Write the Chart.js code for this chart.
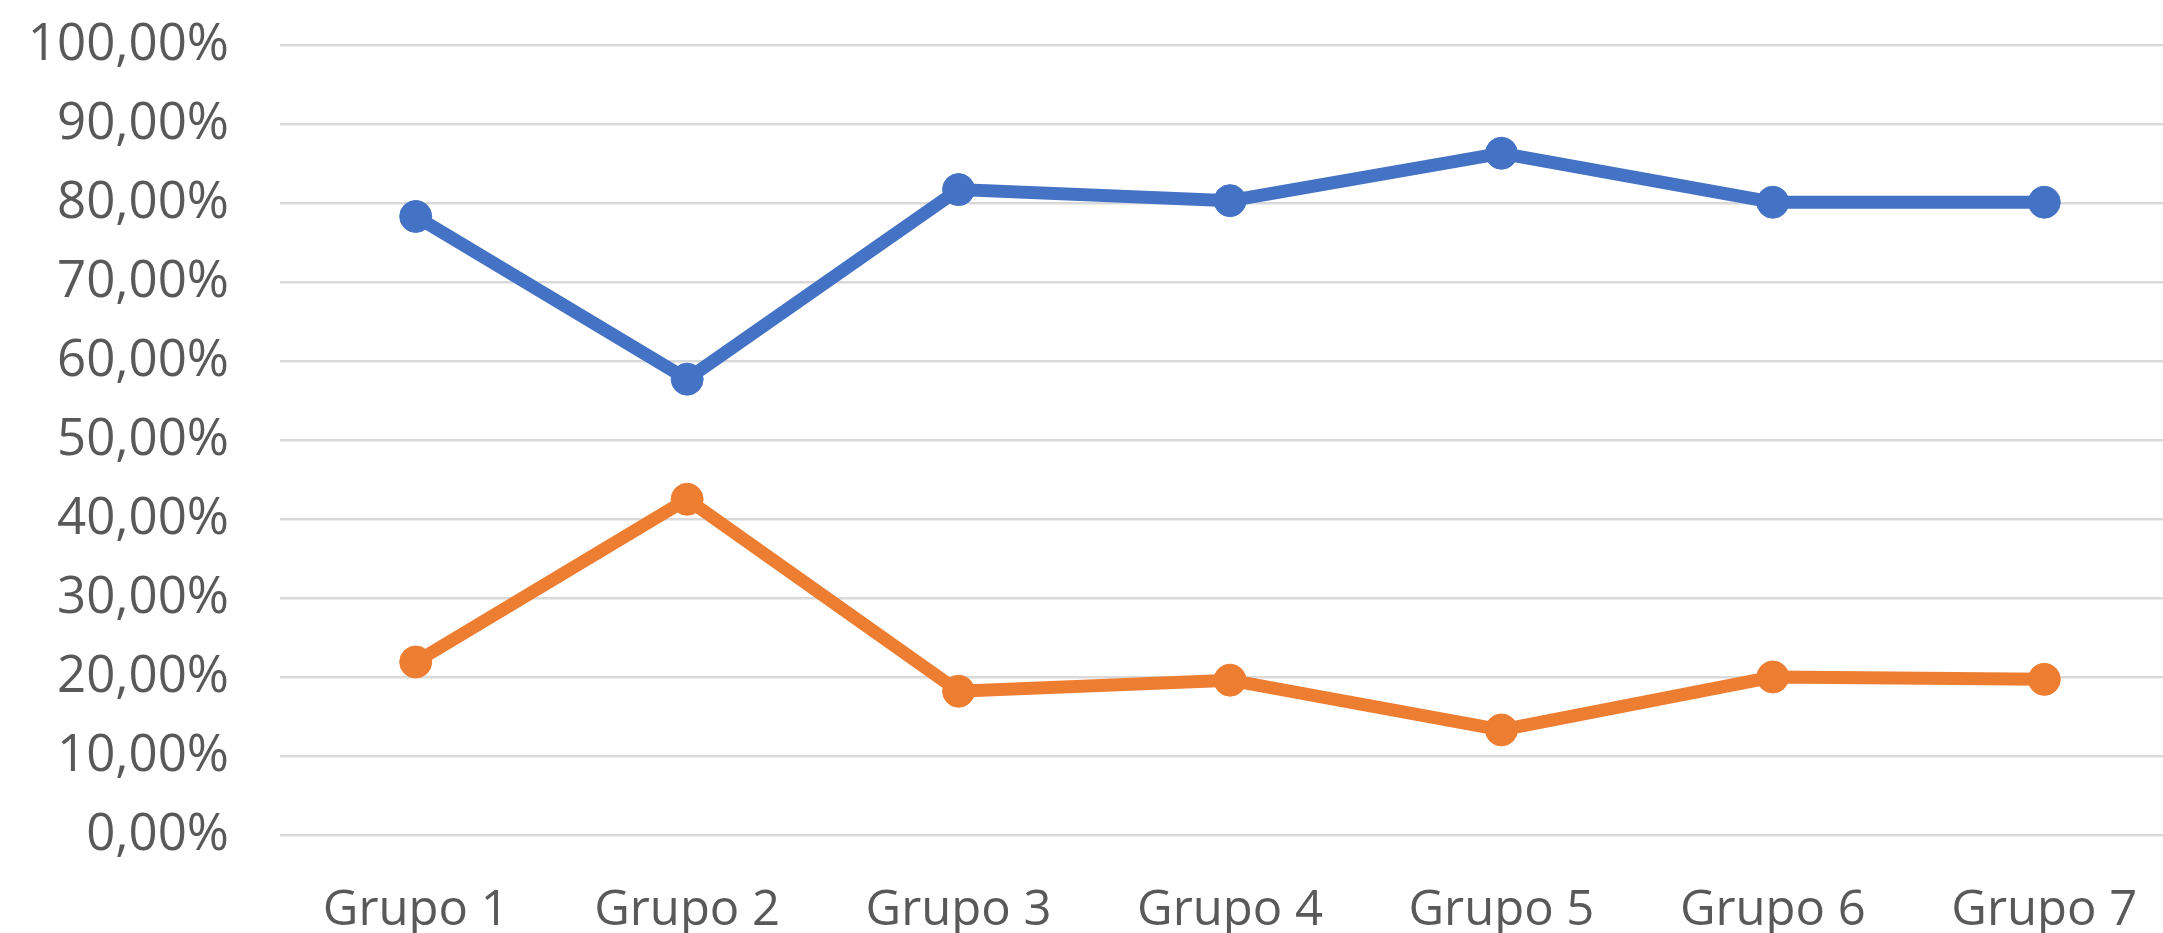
<!DOCTYPE html>
<html>
<head>
<meta charset="utf-8">
<script src="https://cdn.jsdelivr.net/npm/chart.js@4/dist/chart.umd.min.js"></script>
<style>
  html, body { margin: 0; padding: 0; background: #ffffff; overflow: hidden; }
  #wrap { position: absolute; left: 0; top: 0; width: 2180px; height: 933px; }
</style>
</head>
<body>
<div id="wrap"><canvas id="c"></canvas></div>
<script>
const categories = ['Grupo 1', 'Grupo 2', 'Grupo 3', 'Grupo 4', 'Grupo 5', 'Grupo 6', 'Grupo 7'];
const seriesBlue = [78.3, 57.7, 81.7, 80.3, 86.3, 80.1, 80.1];
const seriesOrange = [21.9, 42.5, 18.2, 19.6, 13.3, 20.0, 19.7];
const yTickValues = [0, 10, 20, 30, 40, 50, 60, 70, 80, 90, 100];
const yTickLabels = ['0,00%', '10,00%', '20,00%', '30,00%', '40,00%', '50,00%', '60,00%', '70,00%', '80,00%', '90,00%', '100,00%'];

const textColor = '#595959';
const fontFamily = '"Open Sans", "DejaVu Sans", sans-serif';

new Chart(document.getElementById('c'), {
  type: 'line',
  data: {
    labels: categories,
    datasets: [
      {
        label: 'Serie 1',
        data: seriesBlue,
        borderColor: '#4472C4',
        backgroundColor: '#4472C4',
        borderWidth: 13,
        pointRadius: 16,
        pointBorderWidth: 1,
        pointBackgroundColor: '#4472C4',
        pointBorderColor: '#4472C4',
        tension: 0
      },
      {
        label: 'Serie 2',
        data: seriesOrange,
        borderColor: '#ED7D31',
        backgroundColor: '#ED7D31',
        borderWidth: 13,
        pointRadius: 16,
        pointBorderWidth: 1,
        pointBackgroundColor: '#ED7D31',
        pointBorderColor: '#ED7D31',
        tension: 0
      }
    ]
  },
  options: {
    responsive: true,
    maintainAspectRatio: false,
    animation: false,
    layout: { autoPadding: false, padding: { left: 30, top: 45, right: 0, bottom: 0 } },
    plugins: { legend: { display: false }, tooltip: { enabled: false } },
    scales: {
      x: {
        offset: true,
        grid: { display: false, drawTicks: false },
        border: { display: false },
        ticks: {
          color: textColor,
          font: { family: fontFamily, size: 49 },
          padding: 47,
          maxRotation: 0,
          autoSkip: false
        },
        afterFit: (s) => { s.height = 98; s.paddingLeft = 0; s.paddingRight = 0; }
      },
      y: {
        min: 0,
        max: 100,
        grid: { color: '#d9d9d9', lineWidth: 2.5, drawTicks: false },
        border: { display: false },
        afterBuildTicks: (s) => { s.ticks = yTickValues.map(v => ({ value: v })); },
        ticks: {
          color: textColor,
          font: { family: fontFamily, size: 51 },
          padding: 51,
          callback: (v) => yTickLabels[yTickValues.indexOf(v)]
        },
        afterFit: (s) => { s.width = 250; s.paddingTop = 0; s.paddingBottom = 0; }
      }
    }
  }
});
</script>
</body>
</html>
